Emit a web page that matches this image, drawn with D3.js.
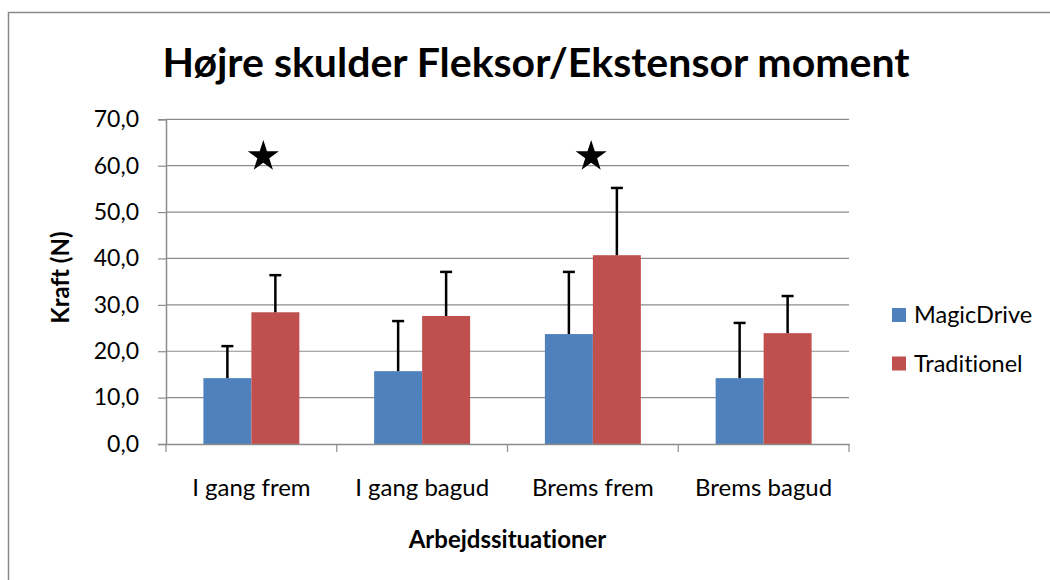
<!DOCTYPE html>
<html>
<head>
<meta charset="utf-8">
<script src="https://cdn.jsdelivr.net/npm/d3@7"></script>
<style>
  html, body { margin: 0; padding: 0; background: #fff; }
  svg { display: block; }
  text { font-family: Lato, "Open Sans", sans-serif; fill: #000; font-variant-ligatures: none; font-feature-settings: "liga" 0, "clig" 0; }
</style>
</head>
<body>
<svg id="chart" width="1050" height="580"></svg>
<script>
// Arbejdssituationer (x categories)
const categories = ["I gang frem", "I gang bagud", "Brems frem", "Brems bagud"];
const seriesNames = ["MagicDrive", "Traditionel"];
// Mean force (N) and standard deviation per situation
const magicDrive = [14.2, 15.7, 23.7, 14.2];
const magicDriveSD = [6.9, 10.8, 13.4, 11.9];
const traditionel = [28.4, 27.6, 40.7, 23.9];
const traditionelSD = [8.0, 9.5, 14.5, 8.0];
// Significance markers: category, height (N) and horizontal shift in band fractions
const significance = [
  { category: "I gang frem", value: 62.0, shift: 0.07 },
  { category: "Brems frem", value: 62.0, shift: -0.01 }
];
const yTicks = [0, 10, 20, 30, 40, 50, 60, 70];
const colors = ["#4F81BD", "#C0504D"];

const svg = d3.select("#chart");
const W = 1050, H = 580;
const plot = { left: 166, right: 849, top: 119.3, bottom: 444 };

const locale = d3.formatLocale({ decimal: ",", thousands: ".", grouping: [3], currency: ["", " kr."] });
const fmt = locale.format(".1f");

// outer frame of the chart area
svg.append("rect")
  .attr("x", 8.5).attr("y", 12.5)
  .attr("width", W + 20).attr("height", H + 20)
  .attr("fill", "#fff").attr("stroke", "#8a8a8a").attr("stroke-width", 1.5);

const x = d3.scaleBand().domain(categories).range([plot.left, plot.right]).paddingInner(0).paddingOuter(0);
const groupFrac = 0.562;
const x1 = d3.scaleBand().domain(seriesNames)
  .range([0, x.bandwidth() * groupFrac]).padding(0);
const groupOffset = x.bandwidth() * (1 - groupFrac) / 2;
const y = d3.scaleLinear().domain([0, 70]).range([plot.bottom, plot.top]);

// horizontal gridlines
svg.append("g").selectAll("line").data(yTicks.filter(d => d > 0)).join("line")
  .attr("x1", plot.left).attr("x2", plot.right)
  .attr("y1", d => y(d)).attr("y2", d => y(d))
  .attr("stroke", "#8c8c8c").attr("stroke-width", 1.2);

// y axis
const yAxis = d3.axisLeft(y).tickValues(yTicks).tickFormat(fmt).tickSize(8).tickPadding(19);
const gy = svg.append("g").attr("transform", `translate(${plot.left},0)`).call(yAxis);
gy.select(".domain").attr("stroke", "#8c8c8c").attr("stroke-width", 1.5);
gy.selectAll(".tick line").attr("stroke", "#8c8c8c").attr("stroke-width", 1.2);
gy.selectAll(".tick text").attr("font-size", 23).attr("font-family", "Lato, sans-serif").attr("fill", "#000");

// bars
const series = [
  { name: seriesNames[0], values: magicDrive, sd: magicDriveSD, color: colors[0] },
  { name: seriesNames[1], values: traditionel, sd: traditionelSD, color: colors[1] }
];
const rows = [];
series.forEach(s => categories.forEach((c, i) => rows.push({ series: s.name, cat: c, v: s.values[i], sd: s.sd[i], color: s.color })));

const barX = d => x(d.cat) + groupOffset + x1(d.series);
svg.append("g").selectAll("rect").data(rows).join("rect")
  .attr("x", barX).attr("width", x1.bandwidth())
  .attr("y", d => y(d.v)).attr("height", d => y(0) - y(d.v))
  .attr("fill", d => d.color);

// error bars (plus direction)
const eb = svg.append("g").attr("stroke", "#000").attr("stroke-width", 2.5);
const capW = 12;
rows.forEach(d => {
  const cx = barX(d) + x1.bandwidth() / 2;
  eb.append("line").attr("x1", cx).attr("x2", cx).attr("y1", y(d.v)).attr("y2", y(d.v + d.sd));
  eb.append("line").attr("x1", cx - capW / 2).attr("x2", cx + capW / 2).attr("y1", y(d.v + d.sd)).attr("y2", y(d.v + d.sd));
});

// x axis
const xAxis = d3.axisBottom(x).tickSize(0).tickPadding(0).tickFormat(() => "");
const gx = svg.append("g").attr("transform", `translate(0,${plot.bottom})`).call(xAxis);
gx.select(".domain").attr("stroke", "#8c8c8c").attr("stroke-width", 1.5);
gx.selectAll(".tick").remove();
// boundary ticks between categories
const bounds = categories.map(c => x(c)).concat([x(categories[categories.length - 1]) + x.bandwidth()]);
svg.append("g").selectAll("line").data(bounds).join("line")
  .attr("x1", d => d).attr("x2", d => d)
  .attr("y1", plot.bottom).attr("y2", plot.bottom + 8)
  .attr("stroke", "#8c8c8c").attr("stroke-width", 1.2);
svg.append("g").selectAll("text").data(categories).join("text")
  .attr("x", d => x(d) + x.bandwidth() / 2).attr("y", 496)
  .attr("text-anchor", "middle").attr("font-size", 24)
  .text(d => d);

// significance stars
svg.append("g").selectAll("path").data(significance).join("path")
  .attr("d", d3.symbol(d3.symbolStar).size(300))
  .attr("transform", d => `translate(${x(d.category) + x.bandwidth() * (0.5 + d.shift)},${y(d.value)})`)
  .attr("fill", "#000");

// titles
svg.append("text").attr("x", (163 + 909) / 2).attr("y", 77)
  .attr("text-anchor", "middle").attr("font-weight", "bold").attr("font-size", 41)
  .text("Højre skulder Fleksor/Ekstensor moment");
svg.append("text").attr("x", (plot.left + plot.right) / 2).attr("y", 548)
  .attr("text-anchor", "middle").attr("font-weight", "bold").attr("font-size", 24)
  .text("Arbejdssituationer");
svg.append("text").attr("transform", `translate(69,${(plot.top + plot.bottom) / 2 - 4}) rotate(-90)`)
  .attr("text-anchor", "middle").attr("font-weight", "bold").attr("font-size", 24)
  .text("Kraft (N)");

// legend
const lg = svg.append("g").selectAll("g").data(series).join("g")
  .attr("transform", (d, i) => `translate(892,${315 + i * 48.5})`);
lg.append("rect").attr("x", 0).attr("y", -7).attr("width", 14).attr("height", 14).attr("fill", d => d.color);
lg.append("text").attr("x", 22).attr("y", 8).attr("font-size", 23.5).text(d => d.name);
</script>
</body>
</html>
